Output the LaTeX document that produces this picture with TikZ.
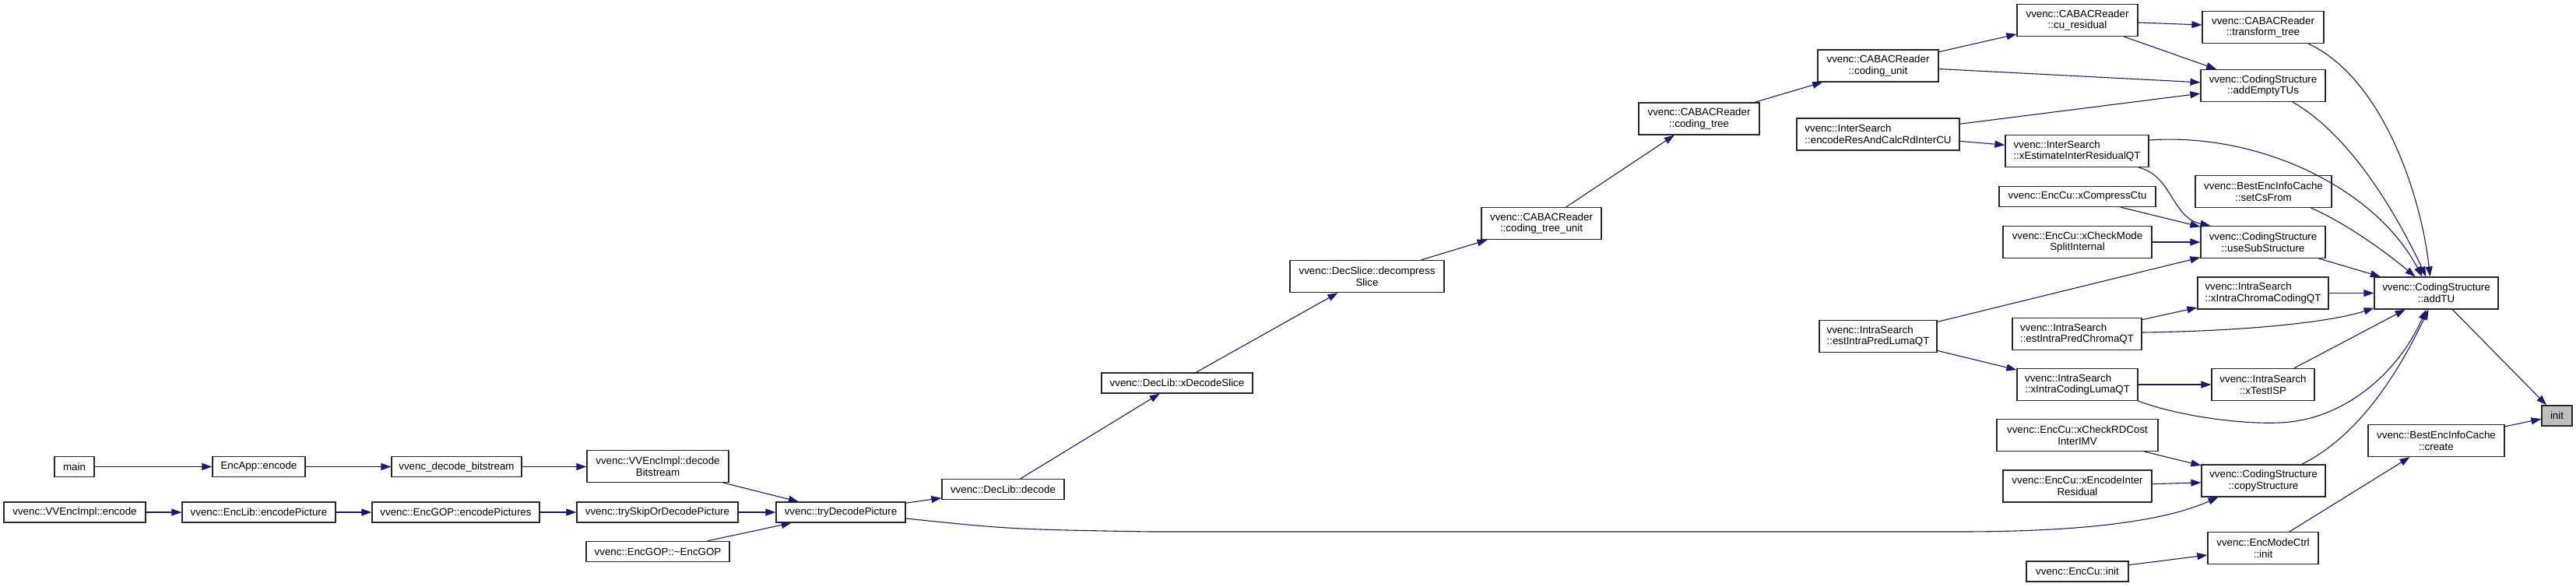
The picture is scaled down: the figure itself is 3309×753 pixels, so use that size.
\documentclass[tikz,border=0pt]{standalone}
\usepackage{fontspec}
\setmainfont{Liberation Sans}
\usetikzlibrary{arrows.meta}
\definecolor{edgec}{RGB}{25,25,112}
\definecolor{boxc}{RGB}{40,40,40}
\definecolor{initc}{RGB}{191,191,191}
\newcommand{\nodefont}{\fontsize{13.33}{14.6}\selectfont}
\tikzset{
  box/.style={draw=boxc, line width=1.2pt, fill=white, inner sep=2pt, minimum height=26pt, font=\nodefont, align=center},
  two/.style={minimum height=41pt},
  lft/.style={align=left},
  e/.style={draw=edgec, line width=1.1pt, -{Triangle[length=13pt,width=9pt]}},
}
\begin{document}
\begin{tikzpicture}[x=1pt,y=-1pt]
\useasboundingbox (0,0) rectangle (3309,753);
% nodes
\node[box,minimum width=51pt] (main) at (95.5,599.5) {main};
\node[box,minimum width=119pt] (encapp) at (332.5,599.5) {EncApp::encode};
\node[box,minimum width=167pt] (vdb) at (586.5,599.5) {vvenc\_decode\_bitstream};
\node[box,two,minimum width=182pt] (vdec) at (845,599) {vvenc::VVEncImpl::decode\\Bitstream};
\node[box,minimum width=182pt] (venc) at (96,658) {vvenc::VVEncImpl::encode};
\node[box,minimum width=197pt] (encpic) at (332.5,658) {vvenc::EncLib::encodePicture};
\node[box,minimum width=215pt] (encpics) at (585.5,658) {vvenc::EncGOP::encodePictures};
\node[box,minimum width=207pt] (tryskip) at (844.5,658) {vvenc::trySkipOrDecodePicture};
\node[box,minimum width=184pt] (dgop) at (845,708.5) {vvenc::EncGOP::\textasciitilde EncGOP};
\node[box,minimum width=166pt] (trydec) at (1080,658) {vvenc::tryDecodePicture};
\node[box,minimum width=157pt] (declib) at (1288.5,628.5) {vvenc::DecLib::decode};
\node[box,minimum width=194pt] (xdec) at (1512,492) {vvenc::DecLib::xDecodeSlice};
\node[box,two,minimum width=198pt] (decomp) at (1756,355) {vvenc::DecSlice::decompress\\Slice};
\node[box,two,minimum width=154pt] (ctu) at (1980,287) {vvenc::CABACReader\\::coding\_tree\_unit};
\node[box,two,minimum width=155pt] (ct) at (2182.5,152.5) {vvenc::CABACReader\\::coding\_tree};
\node[box,two,minimum width=155pt] (cu) at (2412.5,84.5) {vvenc::CABACReader\\::coding\_unit};
\node[box,two,minimum width=155pt] (cures) at (2668.5,26) {vvenc::CABACReader\\::cu\_residual};
\node[box,two,minimum width=156pt] (tt) at (2907,35) {vvenc::CABACReader\\::transform\_tree};
\node[box,two,minimum width=160pt] (aet) at (2907,110) {vvenc::CodingStructure\\::addEmptyTUs};
\node[box,two,lft,minimum width=209pt] (erc) at (2412.5,172.5) {vvenc::InterSearch\\::encodeResAndCalcRdInterCU};
\node[box,two,lft,minimum width=184pt] (xeir) at (2668,194) {vvenc::InterSearch\\::xEstimateInterResidualQT};
\node[box,two,minimum width=175pt] (scf) at (2907.5,246) {vvenc::BestEncInfoCache\\::setCsFrom};
\node[box,minimum width=201pt] (xcc) at (2668.5,252.5) {vvenc::EncCu::xCompressCtu};
\node[box,two,minimum width=191pt] (xcms) at (2668.5,311) {vvenc::EncCu::xCheckMode\\SplitInternal};
\node[box,two,minimum width=160pt] (uss) at (2907,311) {vvenc::CodingStructure\\::useSubStructure};
\node[box,two,lft,minimum width=168pt] (xicc) at (2907,376.5) {vvenc::IntraSearch\\::xIntraChromaCodingQT};
\node[box,two,minimum width=159pt] (addtu) at (3129.5,376.5) {vvenc::CodingStructure\\::addTU};
\node[box,two,lft,minimum width=151pt] (eipl) at (2412.5,432) {vvenc::IntraSearch\\::estIntraPredLumaQT};
\node[box,two,lft,minimum width=166pt] (eipc) at (2668,429) {vvenc::IntraSearch\\::estIntraPredChromaQT};
\node[box,two,lft,minimum width=155pt] (xicl) at (2668.5,494) {vvenc::IntraSearch\\::xIntraCodingLumaQT};
\node[box,two,minimum width=132pt] (xisp) at (2907,494) {vvenc::IntraSearch\\::xTestISP};
\node[box,fill=initc,minimum width=39pt] (init) at (3284.5,534) {init};
\node[box,two,minimum width=175pt] (create) at (3129.5,566) {vvenc::BestEncInfoCache\\::create};
\node[box,two,minimum width=207pt] (xrd) at (2668.5,559) {vvenc::EncCu::xCheckRDCost\\InterIMV};
\node[box,two,minimum width=191pt] (xei) at (2668.5,624.5) {vvenc::EncCu::xEncodeInter\\Residual};
\node[box,two,minimum width=159pt] (cps) at (2907.5,617.5) {vvenc::CodingStructure\\::copyStructure};
\node[box,two,minimum width=142pt] (emc) at (2907,704) {vvenc::EncModeCtrl\\::init};
\node[box,minimum width=131pt] (ecinit) at (2668.5,734) {vvenc::EncCu::init};
% edges
\draw[e] (main) -- (encapp);
\draw[e] (encapp) -- (vdb);
\draw[e] (vdb) -- (vdb -| vdec.west);
\draw[e] (vdec) -- (trydec);
\draw[e] (venc) -- (encpic);
\draw[e] (encpic) -- (encpics);
\draw[e] (encpics) -- (tryskip);
\draw[e] (tryskip) -- (trydec);
\draw[e] (dgop) -- (trydec);
\draw[e] (trydec) -- (declib);
\draw[e] ([yshift=-8pt]trydec.east) .. controls (1300,680) .. (1478,683) -- (2517,683) .. controls (2700,683) and (2790,665) .. ([xshift=22pt]cps.south west);
\draw[e] (declib) -- (xdec);
\draw[e] (xdec) -- (decomp);
\draw[e] (decomp) -- (ctu);
\draw[e] (ctu) -- (ct);
\draw[e] (ct) -- (cu);
\draw[e] (cu) -- (cures);
\draw[e] (cu) -- (aet);
\draw[e] (cures) -- (tt);
\draw[e] (cures) -- (aet);
\draw[e] ([xshift=58pt]tt.south) .. controls (3060,100) and (3110,250) .. ([xshift=-8pt]addtu.north);
\draw[e] ([xshift=38pt]aet.south) .. controls (3030,180) and (3090,300) .. ([xshift=-13pt]addtu.north);
\draw[e] (erc) -- (aet);
\draw[e] (erc) -- (xeir);
\draw[e] ([yshift=14pt]xeir.east) .. controls (2900,170) and (3050,240) .. ([xshift=-18pt]addtu.north);
\draw[e] ([xshift=79pt]xeir.south) .. controls (2790,225) and (2790,280) .. ([xshift=13pt]uss.north west);
\draw[e] ([xshift=61pt]scf.south) .. controls (3010,285) and (3060,320) .. ([xshift=-27pt]addtu.north);
\draw[e] (xcc) -- (uss);
\draw[e] (xcms) -- (uss);
\draw[e] (eipl) -- (uss);
\draw[e] (eipl) -- (xicl);
\draw[e] (uss) -- (addtu);
\draw[e] (xicc) -- (addtu);
\draw[e] (eipc) -- (xicc);
\draw[e] ([yshift=2pt]eipc.east) .. controls (2900,425) and (3000,412) .. ([yshift=2pt]addtu.south west);
\draw[e] (xicl) -- (xisp);
\draw[e] (xicl.south east) .. controls (2800,535) and (2880,545) .. (2928,543) .. controls (3010,540) and (3080,480) .. ([xshift=-13pt]addtu.south);
\draw[e] (xisp) -- (addtu);
\draw[e] (xrd) -- (cps);
\draw[e] (xei) -- (cps);
\draw[e] ([xshift=49pt]cps.north) .. controls (3030,560) and (3080,480) .. ([xshift=-10pt]addtu.south);
\draw[e] (addtu) -- (init);
\draw[e] (create) -- (init);
\draw[e] (emc) -- (create);
\draw[e] (ecinit) -- (emc);
\end{tikzpicture}
\end{document}
